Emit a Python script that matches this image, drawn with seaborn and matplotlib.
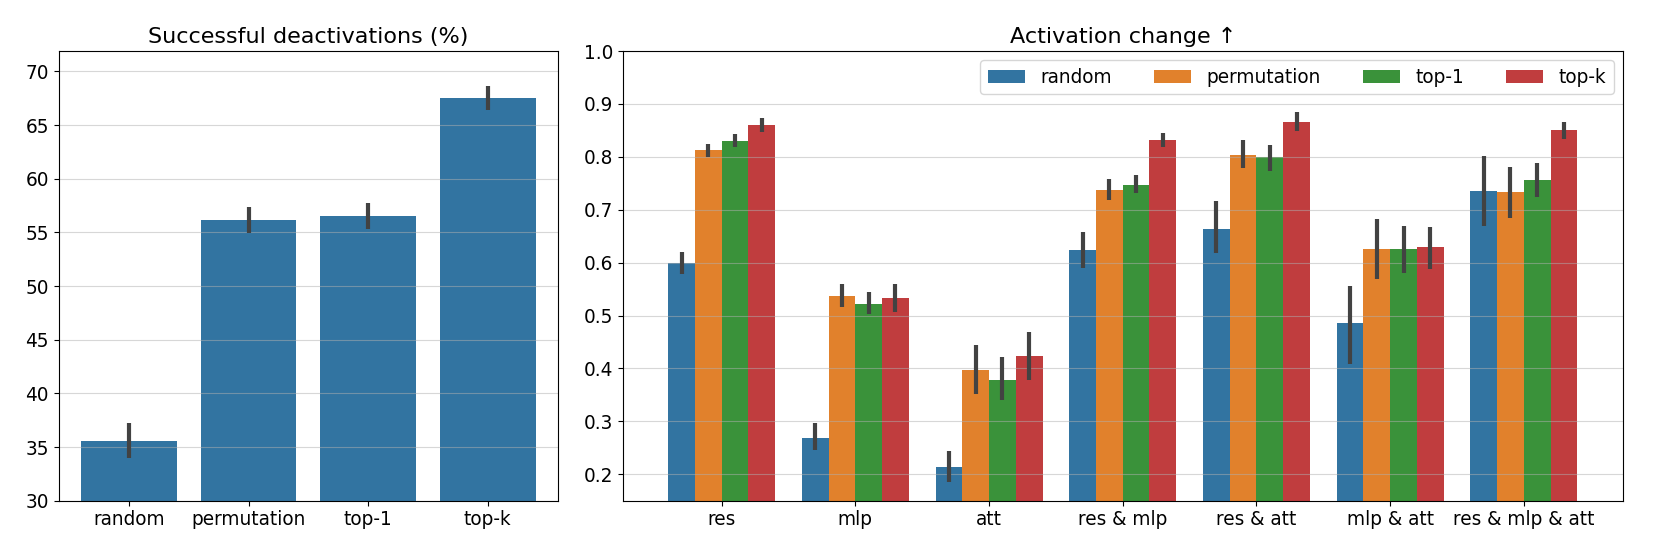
import matplotlib
matplotlib.use('Agg')
import matplotlib.pyplot as plt
import pandas as pd
import seaborn as sns

plt.rcParams['font.size'] = 13.33

methods = ['random', 'permutation', 'top-1', 'top-k']

# left panel: successful deactivations (%)
deact_mean = [35.55, 56.17, 56.53, 67.52]
deact_lo = [33.96, 54.98, 55.35, 66.40]
deact_hi = [37.26, 57.39, 57.72, 68.68]

# right panel: activation change per component
components = ['res', 'mlp', 'att', 'res & mlp', 'res & att', 'mlp & att', 'res & mlp & att']

random_mean = [0.599, 0.269, 0.213, 0.624, 0.664, 0.486, 0.735]
random_lo = [0.578, 0.246, 0.185, 0.589, 0.618, 0.409, 0.669]
random_hi = [0.620, 0.296, 0.244, 0.658, 0.716, 0.556, 0.801]

perm_mean = [0.812, 0.537, 0.397, 0.738, 0.804, 0.625, 0.734]
perm_lo = [0.799, 0.517, 0.352, 0.718, 0.778, 0.569, 0.685]
perm_hi = [0.824, 0.560, 0.445, 0.759, 0.832, 0.682, 0.781]

top1_mean = [0.830, 0.522, 0.378, 0.747, 0.800, 0.625, 0.756]
top1_lo = [0.818, 0.503, 0.340, 0.731, 0.774, 0.580, 0.725]
top1_hi = [0.843, 0.545, 0.421, 0.766, 0.823, 0.670, 0.789]

topk_mean = [0.860, 0.533, 0.423, 0.832, 0.866, 0.629, 0.850]
topk_lo = [0.847, 0.507, 0.378, 0.819, 0.848, 0.588, 0.834]
topk_hi = [0.874, 0.560, 0.468, 0.845, 0.884, 0.668, 0.866]

act_mean = [random_mean, perm_mean, top1_mean, topk_mean]
act_lo = [random_lo, perm_lo, top1_lo, topk_lo]
act_hi = [random_hi, perm_hi, top1_hi, topk_hi]

err_color = '#424242'
err_lw = 3.0

fig = plt.figure(figsize=(16.61, 5.54), dpi=100)
ax1 = fig.add_axes([0.0353, 0.0962, 0.3008, 0.8117])
ax2 = fig.add_axes([0.3749, 0.0962, 0.6021, 0.8117])

# left
df_left = pd.DataFrame({'method': methods, 'value': deact_mean})
sns.barplot(data=df_left, x='method', y='value', color='tab:blue', errorbar=None, ax=ax1)
for bar, lo, hi in zip(ax1.containers[0], deact_lo, deact_hi):
    cx = bar.get_x() + bar.get_width() / 2
    ax1.vlines(cx, lo, hi, color=err_color, lw=err_lw, zorder=3)
ax1.set_ylim(30, 71.9)
ax1.set_xlabel('')
ax1.set_ylabel('')
ax1.set_title('Successful deactivations (%)', fontsize=16)
ax1.grid(axis='y', alpha=0.5)

# right
rows = []
for m, vals in zip(methods, act_mean):
    for c, v in zip(components, vals):
        rows.append({'component': c, 'method': m, 'value': v})
df_right = pd.DataFrame(rows)
sns.barplot(data=df_right, x='component', y='value', hue='method', errorbar=None, ax=ax2)
for cont, los, his in zip(ax2.containers, act_lo, act_hi):
    for bar, lo, hi in zip(cont, los, his):
        cx = bar.get_x() + bar.get_width() / 2
        ax2.vlines(cx, lo, hi, color=err_color, lw=err_lw, zorder=3)
ax2.set_ylim(0.15, 1.0)
ax2.set_xlabel('')
ax2.set_ylabel('')
ax2.set_title('Activation change ↑', fontsize=16)
ax2.grid(axis='y', alpha=0.5)
ax2.legend(ncol=4, loc='upper right', handletextpad=0.85, columnspacing=2.25)

fig.savefig('out.png', dpi=100)
